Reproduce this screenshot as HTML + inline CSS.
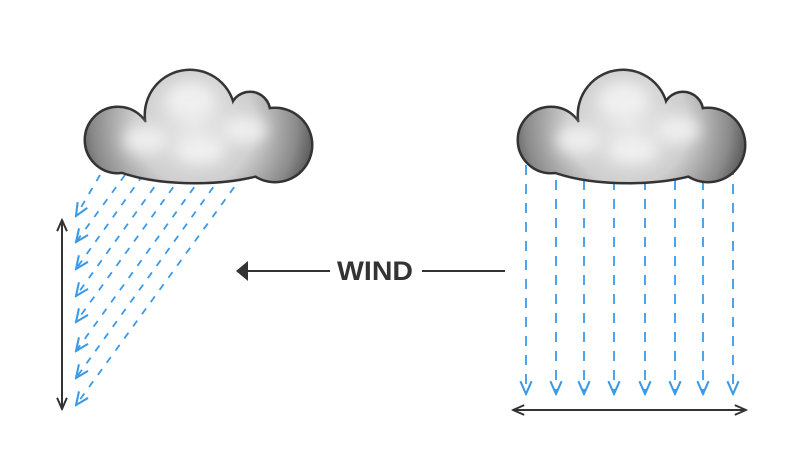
<!DOCTYPE html>
<html><head><style>body{margin:0;background:#fff}svg{display:block}</style></head><body>
<svg width="800" height="458" viewBox="0 0 800 458" xmlns="http://www.w3.org/2000/svg">
<defs>
<radialGradient id="g" gradientUnits="userSpaceOnUse" cx="110" cy="125" r="120">
<stop offset="0" stop-color="#e8e8e8"/><stop offset="0.5" stop-color="#cfcfcf"/><stop offset="0.85" stop-color="#8a8a8a"/><stop offset="1" stop-color="#5a5a5a"/>
</radialGradient>
<filter id="bl" x="-50%" y="-50%" width="200%" height="200%"><feGaussianBlur stdDeviation="7"/></filter>
<g id="cloud">
<g stroke="#333" stroke-width="3" fill="#555">
<circle cx="105" cy="115" r="45"/><circle cx="33" cy="140" r="33"/><circle cx="190" cy="145" r="37"/><circle cx="165" cy="112" r="20"/><ellipse cx="110" cy="150" rx="100" ry="33"/>
</g>
<g fill="url(#g)">
<circle cx="105" cy="115" r="44"/><circle cx="33" cy="140" r="32"/><circle cx="190" cy="145" r="36"/><circle cx="165" cy="112" r="19"/><ellipse cx="110" cy="150" rx="99" ry="32"/>
</g>
<g fill="#f4f4f4" filter="url(#bl)" opacity="0.8">
<ellipse cx="105" cy="100" rx="25" ry="18"/><ellipse cx="60" cy="140" rx="22" ry="14"/><ellipse cx="115" cy="150" rx="25" ry="14"/><ellipse cx="160" cy="130" rx="22" ry="14"/>
</g>
</g>
<marker id="ab" viewBox="0 0 10 10" refX="9" refY="5" markerWidth="16" markerHeight="16" orient="auto-start-reverse" markerUnits="userSpaceOnUse"><path d="M1,1.5 L9,5 L1,8.5" fill="none" stroke="#3a9ae8" stroke-width="1.3"/></marker>
<marker id="ak" viewBox="0 0 10 10" refX="9" refY="5" markerWidth="14" markerHeight="14" orient="auto-start-reverse" markerUnits="userSpaceOnUse"><path d="M1,1.5 L9,5 L1,8.5" fill="none" stroke="#333" stroke-width="1.4"/></marker>
</defs>
<g stroke="#3a9ae8" stroke-width="1.8" fill="none">
<g stroke-dasharray="7,8">
<line x1="100" y1="175" x2="76" y2="216" marker-end="url(#ab)"/>
<line x1="125" y1="175" x2="76" y2="242" marker-end="url(#ab)"/>
<line x1="143" y1="175" x2="76" y2="269" marker-end="url(#ab)"/>
<line x1="163" y1="175" x2="76" y2="296" marker-end="url(#ab)"/>
<line x1="182" y1="175" x2="76" y2="322" marker-end="url(#ab)"/>
<line x1="203" y1="175" x2="76" y2="351" marker-end="url(#ab)"/>
<line x1="222" y1="175" x2="76" y2="378" marker-end="url(#ab)"/>
<line x1="243" y1="175" x2="76" y2="405" marker-end="url(#ab)"/>
</g>
<g stroke-dasharray="10,9">
<line x1="526" y1="165" x2="526" y2="394" marker-end="url(#ab)"/>
<line x1="556" y1="180" x2="556" y2="394" marker-end="url(#ab)"/>
<line x1="584" y1="180" x2="584" y2="394" marker-end="url(#ab)"/>
<line x1="614" y1="180" x2="614" y2="394" marker-end="url(#ab)"/>
<line x1="645" y1="180" x2="645" y2="394" marker-end="url(#ab)"/>
<line x1="675" y1="180" x2="675" y2="394" marker-end="url(#ab)"/>
<line x1="703" y1="180" x2="703" y2="394" marker-end="url(#ab)"/>
<line x1="733" y1="165" x2="733" y2="394" marker-end="url(#ab)"/>
</g>
</g>
<use href="#cloud" x="85" y="0"/>
<use href="#cloud" x="518" y="0"/>
<g stroke="#333" stroke-width="2" fill="none">
<line x1="62" y1="220" x2="62" y2="409" marker-start="url(#ak)" marker-end="url(#ak)"/>
<line x1="513" y1="410" x2="746" y2="410" marker-start="url(#ak)" marker-end="url(#ak)"/>
<line x1="245" y1="271" x2="330" y2="271"/>
<line x1="422" y1="271" x2="505" y2="271"/>
</g>
<path d="M236,271 L248,261 L248,281 Z" fill="#333"/>
<text x="375" y="280" text-anchor="middle" font-family="Liberation Sans, sans-serif" font-weight="bold" font-size="27" fill="#333" textLength="76" lengthAdjust="spacingAndGlyphs">WIND</text>
</svg>
</body></html>
